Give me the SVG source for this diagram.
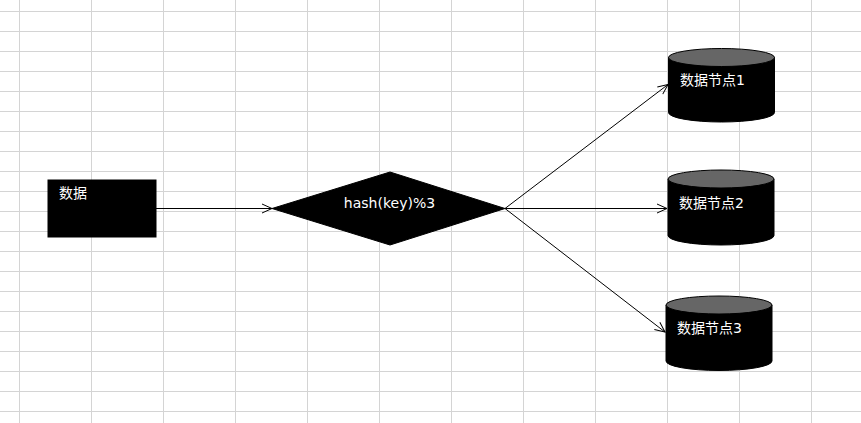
<svg xmlns="http://www.w3.org/2000/svg" width="861" height="423" viewBox="0 0 861 423">
<defs>
<style>
.grid line{stroke:#d4d4d4;stroke-width:1}
.conn{stroke:#000;stroke-width:1;fill:none}
.shape{fill:#000;stroke:#000;stroke-width:1}
.lid{fill:#666;stroke:#000;stroke-width:1}
.lbl{fill:#fff;font-family:"DejaVu Sans","Noto Sans CJK SC",sans-serif;font-size:14px}
</style>
<marker id="arr" markerWidth="12" markerHeight="12" viewBox="-11 -6 12 12" refX="0" refY="0" orient="auto" markerUnits="userSpaceOnUse">
<path d="M-10,-4.5 L0,0 L-10,4.5" fill="none" stroke="#000" stroke-width="1"/>
</marker>
</defs>
<rect width="861" height="423" fill="#fff"/>
<g class="grid">
<line x1="19.5" y1="0" x2="19.5" y2="423"/>
<line x1="91.5" y1="0" x2="91.5" y2="423"/>
<line x1="163.5" y1="0" x2="163.5" y2="423"/>
<line x1="235.5" y1="0" x2="235.5" y2="423"/>
<line x1="307.5" y1="0" x2="307.5" y2="423"/>
<line x1="379.5" y1="0" x2="379.5" y2="423"/>
<line x1="451.5" y1="0" x2="451.5" y2="423"/>
<line x1="523.5" y1="0" x2="523.5" y2="423"/>
<line x1="595.5" y1="0" x2="595.5" y2="423"/>
<line x1="667.5" y1="0" x2="667.5" y2="423"/>
<line x1="739.5" y1="0" x2="739.5" y2="423"/>
<line x1="811.5" y1="0" x2="811.5" y2="423"/>
<line x1="0" y1="11.5" x2="861" y2="11.5"/>
<line x1="0" y1="31.5" x2="861" y2="31.5"/>
<line x1="0" y1="51.5" x2="861" y2="51.5"/>
<line x1="0" y1="71.5" x2="861" y2="71.5"/>
<line x1="0" y1="91.5" x2="861" y2="91.5"/>
<line x1="0" y1="111.5" x2="861" y2="111.5"/>
<line x1="0" y1="131.5" x2="861" y2="131.5"/>
<line x1="0" y1="151.5" x2="861" y2="151.5"/>
<line x1="0" y1="171.5" x2="861" y2="171.5"/>
<line x1="0" y1="191.5" x2="861" y2="191.5"/>
<line x1="0" y1="211.5" x2="861" y2="211.5"/>
<line x1="0" y1="231.5" x2="861" y2="231.5"/>
<line x1="0" y1="251.5" x2="861" y2="251.5"/>
<line x1="0" y1="271.5" x2="861" y2="271.5"/>
<line x1="0" y1="291.5" x2="861" y2="291.5"/>
<line x1="0" y1="311.5" x2="861" y2="311.5"/>
<line x1="0" y1="331.5" x2="861" y2="331.5"/>
<line x1="0" y1="351.5" x2="861" y2="351.5"/>
<line x1="0" y1="371.5" x2="861" y2="371.5"/>
<line x1="0" y1="391.5" x2="861" y2="391.5"/>
<line x1="0" y1="411.5" x2="861" y2="411.5"/>
</g>
<g id="connectors">
<line class="conn" x1="156" y1="208.5" x2="272" y2="208.5" stroke="#777" marker-end="url(#arr)"/>
<line class="conn" x1="505" y1="208.5" x2="668" y2="84.5" marker-end="url(#arr)"/>
<line class="conn" x1="505" y1="208.5" x2="667" y2="208.5" marker-end="url(#arr)"/>
<line class="conn" x1="505" y1="208.5" x2="665" y2="332" marker-end="url(#arr)"/>
</g>
<g id="data">
<rect class="shape" x="48" y="180" width="108" height="57" stroke="none"/>
<text class="lbl" x="59" y="197.5">数据</text>
</g>
<g id="hash">
<polygon class="shape" points="272,208.5 390,172 505,208.5 390,245"/>
<text class="lbl" x="389.5" y="208" text-anchor="middle" font-size="14.8">hash(key)%3</text>
</g>
<g id="node1">
<path class="shape" d="M668.5,57.5 V112.5 A53,9.5 0 0 0 774.5,112.5 V57.5 Z"/>
<ellipse class="lid" cx="721.5" cy="57.5" rx="53" ry="9"/>
<text class="lbl" x="680" y="84.5">数据节点1</text>
</g>
<g id="node2">
<path class="shape" d="M668,179 V235.5 A53,9.5 0 0 0 774,235.5 V179 Z"/>
<ellipse class="lid" cx="721" cy="179" rx="53" ry="9"/>
<text class="lbl" x="679" y="207.5">数据节点2</text>
</g>
<g id="node3">
<path class="shape" d="M666,305 V361 A53,9.5 0 0 0 772,361 V305 Z"/>
<ellipse class="lid" cx="719" cy="305" rx="53" ry="9"/>
<text class="lbl" x="677" y="332.5">数据节点3</text>
</g>
</svg>
